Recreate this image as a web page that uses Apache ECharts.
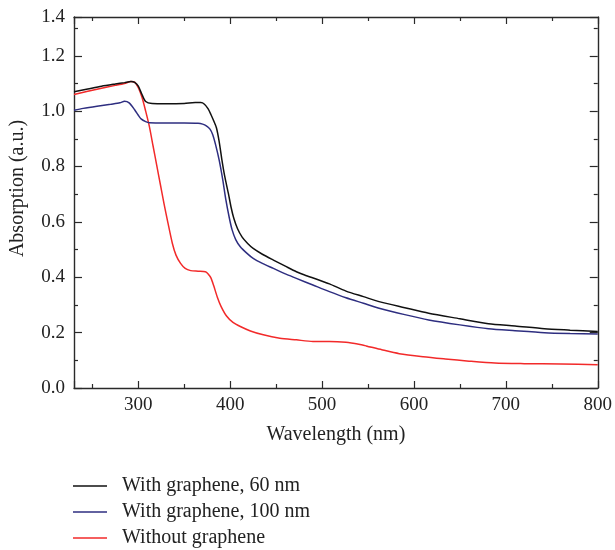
<!DOCTYPE html>
<html>
<head>
<meta charset="utf-8">
<script src="https://cdn.jsdelivr.net/npm/echarts@6/dist/echarts.min.js"></script>
<style>html,body{margin:0;padding:0;background:#fff}#c{width:615px;height:550px}</style>
</head>
<body>
<div id="c"></div>
<script>
var seriesNames = ['With graphene, 60 nm', 'With graphene, 100 nm', 'Without graphene'];

var wl60 = [230,245,260,275,285,292,296,300,304,308,315,330,350,362,368,372,376,379,382,385,388,391,394,398,401,404,408,413,419,425,435,447,460,472,481,495,508,526,545,562,590,616,650,681,710,742,770,800];
var abs60 = [1.070,1.080,1.090,1.098,1.103,1.107,1.104,1.090,1.060,1.035,1.028,1.027,1.028,1.031,1.031,1.025,1.008,0.988,0.965,0.940,0.890,0.823,0.765,0.703,0.652,0.612,0.575,0.545,0.522,0.504,0.483,0.462,0.440,0.420,0.408,0.392,0.376,0.350,0.330,0.312,0.290,0.270,0.250,0.232,0.224,0.214,0.209,0.204];

var wl100 = [230,240,255,270,280,285,290,296,300,303,308,312,330,350,365,370,374,378,381,384,388,392,395,399,402,406,411,418,425,435,447,460,472,490,508,526,545,562,590,616,650,681,710,742,770,800];
var abs100 = [1.003,1.010,1.018,1.025,1.030,1.036,1.030,1.005,0.985,0.972,0.962,0.958,0.957,0.957,0.956,0.953,0.947,0.935,0.915,0.880,0.823,0.750,0.685,0.615,0.572,0.536,0.510,0.487,0.468,0.450,0.432,0.412,0.396,0.372,0.348,0.326,0.306,0.288,0.265,0.246,0.228,0.214,0.207,0.200,0.197,0.195];

var wl0 = [230,245,260,275,285,292,296,300,304,308,312,316,320,324,328,332,337,341,346,351,357,365,373,376,379,382,386,390,396,403,411,422,436,454,472,490,508,526,540,548,565,584,610,634,660,688,720,760,800];
var abs0 = [1.060,1.072,1.083,1.093,1.100,1.107,1.105,1.085,1.050,1.000,0.945,0.875,0.805,0.735,0.665,0.600,0.523,0.480,0.450,0.432,0.424,0.422,0.420,0.412,0.398,0.370,0.328,0.295,0.260,0.237,0.222,0.206,0.192,0.180,0.174,0.168,0.168,0.165,0.158,0.152,0.138,0.124,0.113,0.105,0.097,0.090,0.088,0.087,0.084];

var xMin = 230, xMax = 800, yMin = 0, yMax = 1.34;

function pairs(xs, ys) { return xs.map(function (x, i) { return [x, ys[i]]; }); }

var font = '"Liberation Serif", "DejaVu Serif", serif';
var axisColor = '#2a2a2a';
var chart = echarts.init(document.getElementById('c'));

function xAx(pos, showLabel) {
  return {
    type: 'value', position: pos, min: xMin, max: xMax, splitNumber: 6,
    name: showLabel ? 'Wavelength (nm)' : '', nameLocation: 'middle', nameGap: 37,
    nameTextStyle: { fontFamily: font, fontSize: 20, color: '#222' },
    axisLine: { show: true, onZero: false, lineStyle: { color: axisColor, width: 1.4 } },
    axisTick: { show: true, inside: true, length: 7, lineStyle: { color: axisColor, width: 1.2 } },
    minorTick: { show: true, splitNumber: 2, length: 4, lineStyle: { color: axisColor, width: 1.2 } },
    axisLabel: { show: showLabel, margin: 8, fontFamily: font, fontSize: 19, color: '#222',
      formatter: function (v) { return (Math.abs(v % 100) < 1e-6) ? String(v) : ''; } },
    splitLine: { show: false }
  };
}
function yAx(pos, showLabel) {
  return {
    type: 'value', position: pos, min: yMin, max: yMax, interval: 0.2,
    name: showLabel ? 'Absorption (a.u.)' : '', nameLocation: 'middle', nameGap: 46,
    nameTextStyle: { fontFamily: font, fontSize: 20, color: '#222', padding: [0, 0, 0, 28] },
    axisLine: { show: true, onZero: false, lineStyle: { color: axisColor, width: 1.4 } },
    axisTick: { show: true, inside: true, length: 8, lineStyle: { color: axisColor, width: 1.2 } },
    minorTick: { show: true, splitNumber: 2, length: 4, lineStyle: { color: axisColor, width: 1.2 } },
    axisLabel: { show: showLabel, margin: 9, fontFamily: font, fontSize: 19, color: '#222',
      formatter: function (v) { return v > 1.25 ? '1.4' : v.toFixed(1); } },
    splitLine: { show: false }
  };
}

var colors = ['#111111', '#2e2e80', '#f22a2a'];
var datasets = [pairs(wl60, abs60), pairs(wl100, abs100), pairs(wl0, abs0)];

chart.setOption({
  animation: false,
  backgroundColor: '#fff',
  grid: { left: 73, right: 15, top: 17, bottom: 162 },
  legend: {
    orient: 'vertical', left: 73, top: 475, padding: 0, icon: 'rect',
    itemWidth: 34, itemHeight: 1.6, itemGap: 4,
    textStyle: { fontFamily: font, fontSize: 20, color: '#222', lineHeight: 22, padding: [0, 0, 0, 10] },
    data: seriesNames
  },
  xAxis: [xAx('bottom', true), xAx('top', false)],
  yAxis: [yAx('left', true), yAx('right', false)],
  series: seriesNames.map(function (n, i) {
    return {
      name: n, type: 'line', data: datasets[i], smooth: 0.25, symbol: 'none', showSymbol: false,
      color: colors[i], itemStyle: { color: colors[i] },
      lineStyle: { color: colors[i], width: 1.5 }, z: 3 - i
    };
  })
});
</script>
</body>
</html>
